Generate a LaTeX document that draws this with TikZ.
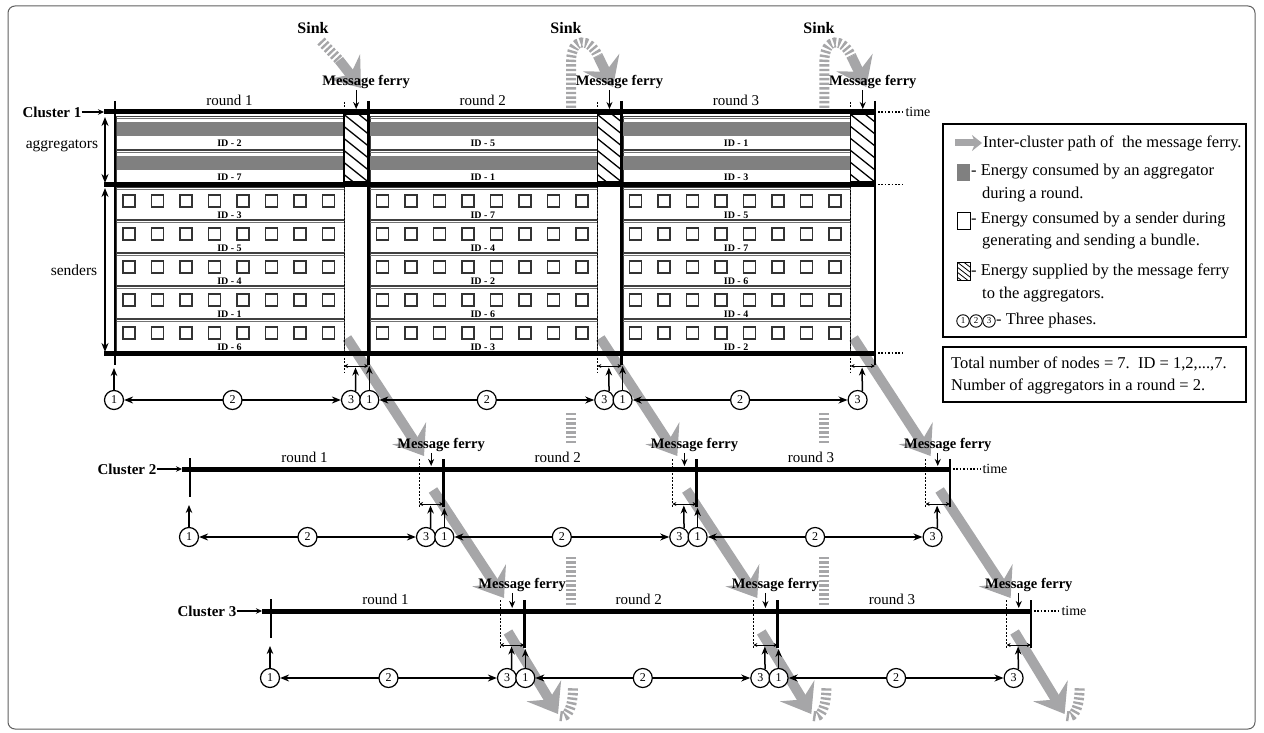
\documentclass[tikz,border=0pt]{standalone}
\usepackage{fontspec}
\setmainfont{Liberation Serif}
\usetikzlibrary{arrows.meta,calc}
\definecolor{ferrygray}{RGB}{166,166,168}
\definecolor{agggray}{RGB}{128,128,128}
\definecolor{framegray}{RGB}{95,95,95}
\tikzset{
 thickln/.style={line width=5pt},
 vbar/.style={line width=2.8pt},
 dotln/.style={line width=1.8pt, dash pattern=on 1.6pt off 1.8pt},
 ferrydash/.style={line width=0.8pt, dash pattern=on 2pt off 1.5pt},
 gpath/.style={line width=10pt, color=ferrygray, -{Stealth[length=27pt,width=40pt,inset=10pt]}},
 gstripe/.style={line width=10pt, color=ferrygray, dash pattern=on 2.4pt off 2.2pt},
 phase/.style={circle, draw, line width=1.2pt, fill=white, inner sep=0pt, minimum size=19pt, font=\fontsize{12}{12}\selectfont},
 smallphase/.style={circle, draw, line width=0.9pt, inner sep=0pt, minimum size=12.5pt, font=\fontsize{9}{9}\selectfont},
 dblar/.style={line width=1.3pt, {Stealth[length=9pt,width=7pt]}-{Stealth[length=9pt,width=7pt]}},
 sidear/.style={line width=1.6pt, {Stealth[length=9pt,width=7pt]}-{Stealth[length=9pt,width=7pt]}},
 upar/.style={line width=1.5pt, -{Stealth[length=8pt,width=6.5pt]}},
 brk/.style={line width=0.8pt, {Stealth[length=4pt,width=4pt]}-{Stealth[length=4pt,width=4pt]}},
 ferryar/.style={line width=1.3pt, -{Stealth[length=7pt,width=6pt]}},
 clar/.style={line width=1.3pt, -{Stealth[length=6pt,width=5.5pt]}},
 mflabel/.style={font=\bfseries\fontsize{14.5}{16}\selectfont, inner sep=0pt},
 roundlabel/.style={font=\fontsize{15}{17}\selectfont, inner sep=0pt},
 clusterlabel/.style={font=\bfseries\fontsize{15}{17}\selectfont, inner sep=0pt},
 sinklabel/.style={font=\bfseries\fontsize{16}{18}\selectfont, inner sep=0pt},
 idlabel/.style={font=\bfseries\fontsize{10}{10}\selectfont, inner sep=0pt},
 sidelabel/.style={font=\fontsize{15.5}{18}\selectfont, inner sep=0pt},
 timelabel/.style={font=\fontsize{14}{16}\selectfont, inner sep=0pt},
 legtext/.style={font=\fontsize{16.5}{20}\selectfont, inner sep=0pt, anchor=west},
 rowbox/.style={draw=black!75, line width=0.6pt},
 sendsq/.style={draw=black!80, line width=1.4pt},
 legbox/.style={draw, line width=1.3pt},
}
\def\roundP{253.3}
\begin{document}
\begin{tikzpicture}[x=1pt,y=-1pt]
\useasboundingbox (0,0) rectangle (1264,733);
\draw[framegray, line width=1pt, rounded corners=7pt] (8,6) rectangle (1255,729);

% ---------- ferry paths (behind everything)
\node[sinklabel] (sink1) at (313,28) {Sink};
\node[sinklabel] (sink2) at (566,28) {Sink};
\node[sinklabel] (sink3) at (819,28) {Sink};
\coordinate (sk1a) at (321,41);
\coordinate (sk1b) at (339,60);
\coordinate (sk1t) at (361,88);
\draw[gstripe] (sk1a) -- (sk1b);
\draw[gpath] (sk1b) -- (sk1t);

\foreach \i in {0,1,2} {
  \pgfmathsetmacro{\dx}{\roundP*\i}
  \coordinate (ga\i) at ({347+\dx},338);
  \coordinate (gb\i) at ({424+\dx},456);
  \coordinate (gc\i) at ({433+\dx},490);
  \coordinate (gd\i) at ({504+\dx},598);
  \coordinate (ge\i) at ({508+\dx},632);
  \coordinate (gf\i) at ({558+\dx},714);
  \coordinate (gg\i) at ({573+\dx},688);
  \draw[gpath] (ga\i) -- (gb\i);
  \draw[gpath] (gc\i) -- (gd\i);
  \draw[gpath] (ge\i) -- (gf\i);
  \draw[gstripe] ($(gf\i)+(2,2)$) .. controls +(8,3) and +(0,18) .. (gg\i);
}
\foreach \i in {0,1} {
  \pgfmathsetmacro{\xr}{571+\roundP*\i}
  \coordinate (ra\i) at (\xr,605);
  \coordinate (rb\i) at (\xr,555);
  \coordinate (rc\i) at (\xr,443);
  \coordinate (rd\i) at (\xr,412);
  \coordinate (re\i) at (\xr,108);
  \coordinate (rf\i) at (\xr,62);
  \coordinate (rg\i) at ({\xr+27},56);
  \coordinate (rh\i) at ({\xr+42},87);
  \draw[gstripe] (ra\i) -- (rb\i);
  \draw[gstripe] (rc\i) -- (rd\i);
  \draw[gstripe] (re\i) -- (rf\i) .. controls +(0,-26) and +(-8,-18) .. (rg\i);
  \draw[gpath] (rg\i) -- (rh\i);
}

% ---------- cluster 1 grid
\foreach \i/\aone/\atwo/\sA/\sB/\sC/\sD/\sE in {0/2/7/3/5/4/1/6, 1/5/1/7/4/2/6/3, 2/1/3/5/7/6/4/2} {
  \pgfmathsetmacro{\rsx}{115+\roundP*\i}
  \pgfmathsetmacro{\flx}{\rsx+229}
  \pgfmathsetmacro{\frx}{\rsx+\roundP}
  \pgfmathsetmacro{\rcx}{(\rsx+\flx)/2}
  \pgfmathsetmacro{\fcx}{(\flx+\frx)/2}
  \pgfmathtruncatemacro{\rn}{\i+1}
  \foreach \k/\idv in {0/\aone, 1/\atwo} {
    \pgfmathsetmacro{\yt}{116+34*\k}
    \draw[rowbox] ({\rsx+1.5},\yt) rectangle (\flx,{\yt+33});
    \draw[black!55, line width=0.5pt] ({\rsx+1.5},{\yt+2.5}) -- (\flx,{\yt+2.5});
    \fill[agggray] ({\rsx+1.5},{\yt+6}) rectangle (\flx,{\yt+20});
    \node[idlabel] (agid\i\k) at (\rcx,{\yt+27}) {ID - \idv};
  }
  \foreach \k/\idv in {0/\sA, 1/\sB, 2/\sC, 3/\sD, 4/\sE} {
    \pgfmathsetmacro{\yt}{187+33*\k}
    \draw[rowbox] ({\rsx+1.5},{\yt+0.5}) rectangle (\flx,{\yt+32.5});
    \draw[black!55, line width=0.5pt] ({\rsx+1.5},{\yt+2.7}) -- (\flx,{\yt+2.7});
    \foreach \j in {0,...,7} {
      \draw[sendsq] ({\rsx+8+28.5*\j},{\yt+8}) rectangle ++(12,12);
    }
    \node[idlabel] (sdid\i\k) at (\rcx,{\yt+28}) {ID - \idv};
  }
  \begin{scope}
    \clip (\flx,114.5) rectangle (\frx,181.5);
    \foreach \m in {-3,...,7} {
      \draw[line width=1.3pt] (\flx,{114.5+12*\m}) -- ++(30,24);
    }
  \end{scope}
  \draw[line width=1.2pt] (\flx,114.5) rectangle (\frx,181.5);
  \draw[ferrydash] (\flx,102) -- (\flx,372);
  \node[roundlabel] (c1round\i) at (\rcx,100) {round \rn};
  \node[mflabel] (c1mf\i) at ({\fcx+10},82) {Message ferry};
  \coordinate (c1mft\i) at (\fcx,109);
  \draw[ferryar] ($(c1mf\i.south -| c1mft\i)+(0,1)$) -- (c1mft\i);
  \coordinate (c1bl\i) at (\flx,366);
  \coordinate (c1br\i) at (\frx,366);
  \draw[brk] (c1bl\i) -- (c1br\i);
}
% cluster 1 main lines
\coordinate (c1s) at (104,112);
\draw[thickln] (c1s) -- (876,112);
\draw[thickln] (104,184.5) -- (876,184.5);
\draw[thickln] (104,353) -- (876,353);
\foreach \xx in {0,1,2,3} {
  \draw[vbar] ({115+\roundP*\xx},101) -- ({115+\roundP*\xx},365);
}
\draw[dotln] (878,112) -- (903,112);
\draw[dotln] (878,184.5) -- (903,184.5);
\draw[dotln] (878,353) -- (903,353);
\node[timelabel] (time1) at (918,112) {time};
\node[clusterlabel] (cl1) at (52,112) {Cluster 1};
\draw[clar] (cl1.east) -- (c1s);
\coordinate (agt) at (105,117);
\coordinate (agb) at (105,183);
\draw[sidear] (agt) -- (agb);
\coordinate (sdt) at (105,188);
\coordinate (sdb) at (105,352);
\draw[sidear] (sdt) -- (sdb);
\node[sidelabel] (aggl) at (62,146) {aggregators};
\node[sidelabel] (sndl) at (74,270) {senders};

% ---------- clusters 2 and 3 timelines
\foreach \cl/\sx/\ly/\lx/\cx/\ry/\my/\vt/\vb/\st/\sb/\tx/\bry in {2/190/469/182/127/457/445/459/507/458/497/995/504, 3/271/611/262/207/599/585/600/648/599/638/1074/645} {
  \pgfmathsetmacro{\endx}{\sx+3*\roundP}
  \coordinate (c\cl s) at (\lx,\ly);
  \coordinate (c\cl e) at (\endx,\ly);
  \draw[thickln] (c\cl s) -- (c\cl e);
  \draw[vbar] (\sx,\st) -- (\sx,\sb);
  \node[clusterlabel] (cl\cl) at (\cx,\ly) {Cluster \cl};
  \draw[clar] (cl\cl.east) -- (c\cl s);
  \draw[dotln] ({\endx+3},\ly) -- ({\tx-14},\ly);
  \node[timelabel] (time\cl) at (\tx,\ly) {time};
  \foreach \i in {0,1,2} {
    \pgfmathsetmacro{\rsx}{\sx+\roundP*\i}
    \pgfmathsetmacro{\flx}{\rsx+229}
    \pgfmathsetmacro{\frx}{\rsx+\roundP}
    \pgfmathsetmacro{\rcx}{(\rsx+\flx)/2}
    \pgfmathsetmacro{\fcx}{(\flx+\frx)/2}
    \pgfmathtruncatemacro{\rn}{\i+1}
    \draw[ferrydash] (\flx,\vt) -- (\flx,\vb);
    \draw[vbar] (\frx,\vt) -- (\frx,\vb);
    \node[roundlabel] (c\cl round\i) at (\rcx,\ry) {round \rn};
    \node[mflabel] (c\cl mf\i) at ({\fcx+10},\my) {Message ferry};
    \coordinate (c\cl mft\i) at (\fcx,{\ly-3});
    \draw[ferryar] ($(c\cl mf\i.south -| c\cl mft\i)+(0,1)$) -- (c\cl mft\i);
    \coordinate (c\cl bl\i) at (\flx,\bry);
    \coordinate (c\cl br\i) at (\frx,\bry);
    \draw[brk] (c\cl bl\i) -- (c\cl br\i);
  }
}

% ---------- phase circles for all clusters
\foreach \cl/\sx/\cy/\bry/\vb/\tz in {1/115/400/366/365/368, 2/190/537/504/507/505, 3/271/678/645/648/646} {
  \foreach \i in {0,1,2} {
    \pgfmathsetmacro{\rsx}{\sx+\roundP*\i}
    \pgfmathsetmacro{\flx}{\rsx+229}
    \pgfmathsetmacro{\ax}{\i==0 ? \sx-1 : \rsx+1}
    \pgfmathsetmacro{\tipy}{\i==0 ? \tz : \vb+1}
    \node[phase] (p\cl a\i) at (\ax,\cy) {1};
    \node[phase] (p\cl c\i) at ({\flx+7},\cy) {3};
    \draw[dblar] (p\cl a\i) -- (p\cl c\i);
    \node[phase] (p\cl b\i) at ($(p\cl a\i)!0.5!(p\cl c\i)$) {2};
    \coordinate (p\cl at\i) at (\ax,\tipy);
    \draw[upar] (p\cl a\i.north) -- (p\cl at\i);
    \coordinate (p\cl ct\i) at ({\flx+11.5},{\bry+1.5});
    \draw[upar] (p\cl c\i.62) -- (p\cl ct\i);
  }
}

% ---------- legend
\draw[legbox] (943,124) rectangle (1246,337);
\coordinate (lga) at (955,143);
\coordinate (lgb) at (982,143);
\draw[line width=7pt, color=ferrygray, -{Stealth[length=10pt,width=16pt]}] (lga) -- (lgb);
\node[legtext] (lt1) at (983,143) {Inter-cluster path of\ \ the message ferry.};
\fill[agggray] (957,164) rectangle (970,181);
\node[legtext] (lt2) at (971,172) {- Energy consumed by an aggregator};
\node[legtext] (lt2b) at (982,195) {during a round.};
\draw[line width=1pt] (957,212) rectangle (970,229);
\node[legtext] (lt3) at (971,220) {- Energy consumed by a sender during};
\node[legtext] (lt3b) at (982,242) {generating and sending a bundle.};
\begin{scope}
  \clip (957,262) rectangle (970,280);
  \foreach \m in {-2,...,4} {
    \draw[line width=0.8pt] (957,{262+5*\m}) -- ++(13,10);
  }
\end{scope}
\draw[line width=1pt] (957,262) rectangle (970,280);
\node[legtext] (lt4) at (971,271) {- Energy supplied by the message ferry};
\node[legtext] (lt4b) at (982,295) {to the aggregators.};
\node[smallphase] (lp1) at (963,321) {1};
\node[smallphase] (lp2) at (976,321) {2};
\node[smallphase] (lp3) at (989,321) {3};
\node[legtext] (lt5) at (996,321) {- Three phases.};
\draw[legbox] (943,347) rectangle (1246,402);
\node[legtext] (lt6) at (951,364) {Total number of nodes = 7.\ \ ID = 1,2,...,7.};
\node[legtext] (lt7) at (951,386) {Number of aggregators in a round = 2.};
\end{tikzpicture}
\end{document}
